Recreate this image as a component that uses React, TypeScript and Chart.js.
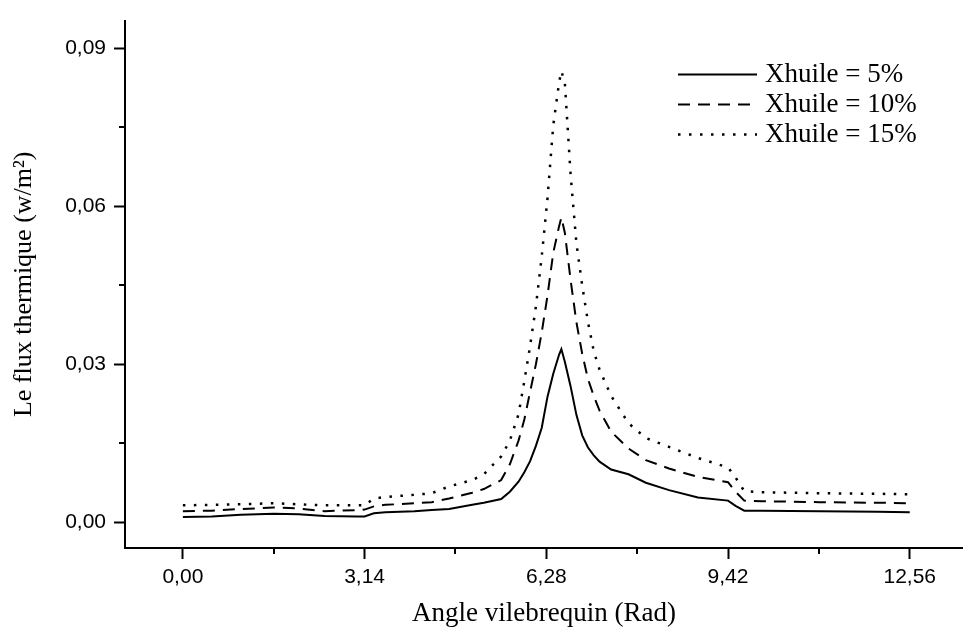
import React, { useEffect, useRef } from 'react';
import { Chart, registerables } from 'chart.js';

Chart.register(...registerables);

// ---- Data ----
const angles = [
  0, 0.5, 1.0, 1.57, 2.0, 2.45, 3.0, 3.14, 3.3, 3.5, 4.0, 4.3, 4.6, 5.0, 5.2, 5.5,
  5.65, 5.8, 5.9, 6.0, 6.1, 6.2, 6.3, 6.4, 6.5, 6.54, 6.6, 6.7, 6.8, 6.9, 7.0, 7.1,
  7.2, 7.4, 7.7, 8.0, 8.4, 8.9, 9.42, 9.55, 9.7, 10.0, 11.0, 12.0, 12.56,
];

const flux5 = [
  0.0010, 0.0011, 0.0014, 0.0016, 0.0015, 0.0012, 0.0011, 0.0011, 0.0017, 0.0019, 0.0021, 0.0023, 0.0025, 0.0033, 0.0037, 0.0044,
  0.0058, 0.0077, 0.0095, 0.0116, 0.0145, 0.0179, 0.0238, 0.0282, 0.0318, 0.0329, 0.0305, 0.0258, 0.0204, 0.0165, 0.0142, 0.0127,
  0.0115, 0.0100, 0.0091, 0.0075, 0.0061, 0.0047, 0.0041, 0.0031, 0.0022, 0.0022, 0.0021, 0.0020, 0.0019,
];

const flux10 = [
  0.0021, 0.0022, 0.0025, 0.0028, 0.0026, 0.0021, 0.0023, 0.0024, 0.0030, 0.0033, 0.0036, 0.0038, 0.0045, 0.0056, 0.0063, 0.0080,
  0.0110, 0.0155, 0.0195, 0.0248, 0.0300, 0.0360, 0.0430, 0.0512, 0.0562, 0.0579, 0.0550, 0.0460, 0.0380, 0.0320, 0.0272, 0.0240,
  0.0212, 0.0172, 0.0140, 0.0118, 0.0102, 0.0086, 0.0076, 0.0058, 0.0041, 0.0040, 0.0038, 0.0037, 0.0036,
];

const flux15 = [
  0.0032, 0.0033, 0.0034, 0.0036, 0.0034, 0.0032, 0.0032, 0.0032, 0.0045, 0.0048, 0.0052, 0.0055, 0.0068, 0.0080, 0.0091, 0.0125,
  0.0155, 0.0205, 0.0268, 0.0335, 0.0410, 0.0504, 0.0615, 0.0754, 0.0835, 0.0857, 0.0835, 0.0660, 0.0530, 0.0450, 0.0380, 0.0325,
  0.0290, 0.0240, 0.0188, 0.0160, 0.0143, 0.0122, 0.0104, 0.0085, 0.0059, 0.0057, 0.0055, 0.0054, 0.0053,
];

const seriesLabels = ['Xhuile = 5%', 'Xhuile = 10%', 'Xhuile = 15%'];

const xMajorTicks = [0, 3.14, 6.28, 9.42, 12.56];
const xMinorTicks = [1.57, 4.71, 7.85, 10.99];
const yMajorTicks = [0, 0.03, 0.06, 0.09];
const yMinorTicks = [0.015, 0.045, 0.075];

const xTitle = 'Angle vilebrequin (Rad)';
const yTitle = 'Le flux thermique (w/m²)';

const fmt = (v: number) => Number(v).toFixed(2).replace('.', ',');

const minorTicksPlugin = {
  id: 'minorTicks',
  afterDraw(chart: any) {
    const { ctx, scales } = chart;
    const x = scales.x;
    const y = scales.y;
    ctx.save();
    ctx.strokeStyle = '#000';
    ctx.lineWidth = 2;
    ctx.beginPath();
    xMinorTicks.forEach((v) => {
      const px = Math.round(x.getPixelForValue(v));
      ctx.moveTo(px, x.top);
      ctx.lineTo(px, x.top + 6);
    });
    yMinorTicks.forEach((v) => {
      const py = Math.round(y.getPixelForValue(v));
      ctx.moveTo(y.right, py);
      ctx.lineTo(y.right - 6, py);
    });
    ctx.stroke();
    ctx.restore();
  },
};

const insideLegendPlugin = {
  id: 'insideLegend',
  afterDraw(chart: any) {
    const { ctx, chartArea } = chart;
    ctx.save();
    chart.data.datasets.forEach((ds: any, i: number) => {
      const rowY = chartArea.top + 54 + i * 30;
      const x0 = chartArea.right - 285;
      const x1 = chartArea.right - 206;
      ctx.beginPath();
      ctx.strokeStyle = ds.borderColor;
      ctx.lineWidth = ds.borderWidth;
      ctx.setLineDash(ds.borderDash || []);
      ctx.moveTo(x0, rowY);
      ctx.lineTo(x1, rowY);
      ctx.stroke();
      ctx.setLineDash([]);
      ctx.fillStyle = '#000';
      ctx.font = '27px "Liberation Serif"';
      ctx.textAlign = 'left';
      ctx.textBaseline = 'middle';
      ctx.fillText(ds.label, chartArea.right - 198, rowY);
    });
    ctx.restore();
  },
};

export default function App() {
  const canvasRef = useRef<HTMLCanvasElement | null>(null);

  useEffect(() => {
    if (!canvasRef.current) return;
    const toPoints = (vals: number[]) => angles.map((a, i) => ({ x: a, y: vals[i] }));
    const chart = new Chart(canvasRef.current, {
      type: 'line',
      data: {
        datasets: [
          {
            label: seriesLabels[0],
            data: toPoints(flux5),
            borderColor: '#000',
            borderWidth: 2,
            borderDash: [],
            pointRadius: 0,
            tension: 0,
            fill: false,
          },
          {
            label: seriesLabels[1],
            data: toPoints(flux10),
            borderColor: '#000',
            borderWidth: 2,
            borderDash: [12, 8],
            pointRadius: 0,
            tension: 0,
            fill: false,
          },
          {
            label: seriesLabels[2],
            data: toPoints(flux15),
            borderColor: '#000',
            borderWidth: 2.5,
            borderDash: [2.5, 8.5],
            pointRadius: 0,
            tension: 0,
            fill: false,
          },
        ],
      },
      options: {
        responsive: false,
        animation: false,
        devicePixelRatio: 1,
        layout: { padding: { top: 15, right: 0, left: 0, bottom: 0 } },
        plugins: {
          legend: { display: false },
          tooltip: { enabled: false },
        },
        scales: {
          x: {
            type: 'linear',
            min: -1.0,
            max: 13.48,
            afterBuildTicks: (scale: any) => {
              scale.ticks = xMajorTicks.map((v) => ({ value: v }));
            },
            afterFit: (scale: any) => {
              scale.height = 82;
            },
            grid: {
              drawOnChartArea: false,
              drawTicks: true,
              tickLength: 11,
              tickWidth: 2,
              tickColor: '#000',
            },
            border: { display: true, color: '#000', width: 2 },
            ticks: {
              autoSkip: false,
              maxRotation: 0,
              padding: 6,
              color: '#000',
              font: { family: 'Liberation Sans', size: 21 },
              callback: (v: any) => fmt(v),
            },
            title: {
              display: true,
              text: xTitle,
              color: '#000',
              font: { family: 'Liberation Serif', size: 27 },
              padding: { top: 0, bottom: 0 },
            },
          },
          y: {
            type: 'linear',
            min: -0.0049,
            max: 0.0953,
            afterBuildTicks: (scale: any) => {
              scale.ticks = yMajorTicks.map((v) => ({ value: v }));
            },
            afterFit: (scale: any) => {
              scale.width = 125;
            },
            grid: {
              drawOnChartArea: false,
              drawTicks: true,
              tickLength: 11,
              tickWidth: 2,
              tickColor: '#000',
            },
            border: { display: true, color: '#000', width: 2 },
            ticks: {
              autoSkip: false,
              padding: 8,
              color: '#000',
              font: { family: 'Liberation Sans', size: 21 },
              callback: (v: any) => fmt(v),
            },
            title: {
              display: true,
              text: yTitle,
              color: '#000',
              font: { family: 'Liberation Serif', size: 26 },
              padding: { top: 9, bottom: 0 },
            },
          },
        },
      } as any,
      plugins: [minorTicksPlugin, insideLegendPlugin],
    });
    return () => chart.destroy();
  }, []);

  return (
    <div style={{ position: 'absolute', left: 0, top: 0, width: 963, height: 630, background: '#fff' }}>
      <canvas ref={canvasRef} width={963} height={630} style={{ display: 'block' }} />
    </div>
  );
}
